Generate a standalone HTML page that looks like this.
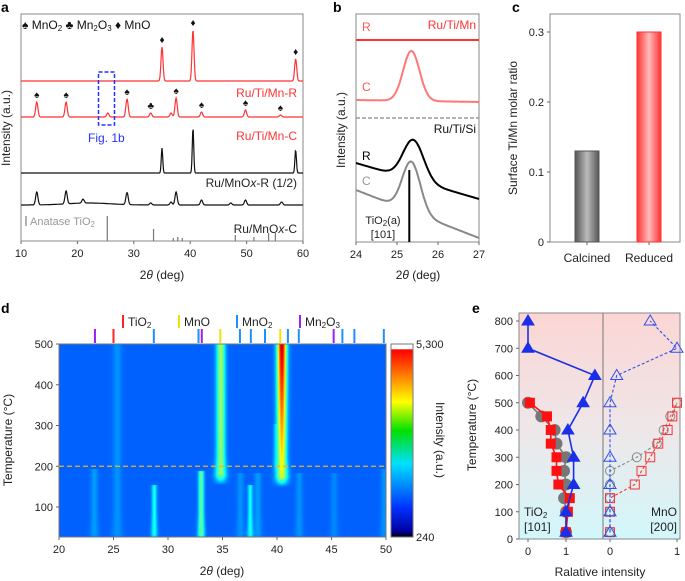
<!DOCTYPE html>
<html><head><meta charset="utf-8">
<style>
body{margin:0;background:#fff;}
#wrap{position:relative;width:685px;height:581px;overflow:hidden;font-family:"Liberation Sans",sans-serif;}
svg{position:absolute;left:0;top:0;}
canvas{position:absolute;}
text{font-family:"Liberation Sans","DejaVu Sans",sans-serif;}
</style></head>
<body>
<div id="wrap">
<canvas id="heat" width="327" height="193" style="left:59px;top:344px"></canvas>
<svg id="s" width="685" height="581" xmlns="http://www.w3.org/2000/svg">
<defs>
<linearGradient id="gGray" x1="0" x2="1"><stop offset="0" stop-color="#555"/><stop offset="0.5" stop-color="#bbb"/><stop offset="1" stop-color="#555"/></linearGradient>
<linearGradient id="gRed" x1="0" x2="1"><stop offset="0" stop-color="#f33"/><stop offset="0.5" stop-color="#fbb"/><stop offset="1" stop-color="#f33"/></linearGradient>
<linearGradient id="gBg" x1="0" y1="0" x2="0" y2="1"><stop offset="0" stop-color="#fbd6d4"/><stop offset="0.5" stop-color="#efe6e8"/><stop offset="1" stop-color="#d2f7fb"/></linearGradient>
<linearGradient id="gJet" x1="0" y1="1" x2="0" y2="0"><stop offset="0" stop-color="#000"/><stop offset="0.03" stop-color="#0000a0"/><stop offset="0.15" stop-color="#0030ff"/><stop offset="0.38" stop-color="#00e0ff"/><stop offset="0.55" stop-color="#00e000"/><stop offset="0.7" stop-color="#ffff00"/><stop offset="0.85" stop-color="#ff7000"/><stop offset="0.97" stop-color="#ff0000"/><stop offset="0.975" stop-color="#fff"/><stop offset="1" stop-color="#fff"/></linearGradient>
</defs>
<g id="root"></g>
</svg>
</div>
<script>
// ---------- DATA ----------
const aTicks=[10,20,30,40,50,60];
const aMnR_peaks=[[35.0,34],[40.5,51],[58.7,22]];
const aMnC_peaks=[[12.8,15],[18.0,15],[25.4,4],[28.8,18],[33.0,4],[36.6,4],[37.5,19],[42.0,5],[49.8,7],[56.0,2]];
const aMnOxR_peaks=[[35.0,25],[40.5,45],[58.7,23]];
const aMnOxC_peaks=[[12.8,13],[18.0,13],[21,4],[28.8,12],[33,2],[36.6,3],[37.5,13],[42,5],[47.2,2],[49.8,5],[56.2,3]];
const anataseRefs=[[25.3,25],[33.5,12],[37.0,3],[37.8,4],[38.6,3],[48.0,6],[51.3,4],[53.9,8],[55.1,8]];
const bTicks=[24,25,26,27];
const bC_peak=[25.35,50];
const bSiR_peak=[25.4,40];
const bSiC_peak=[25.35,50];
const cCats=["Calcined","Reduced"];
const cVals=[0.13,0.30];
const cTicks=[0,0.1,0.2,0.3];
const dXTicks=[20,25,30,35,40,45,50];
const dYTicks=[100,200,300,400,500];
// peaks: pos, tStart, tEnd, ampLow, ampHigh, width
const dPeaks=[[34.8,170,500,0.3,0.32,0.28],[40.4,165,500,0.36,0.72,0.3],[33.0,25,185,0.26,0.26,0.18],[28.7,25,150,0.18,0.18,0.16],[37.5,25,150,0.18,0.18,0.15],
 [23.2,25,190,0.06,0.06,0.22],[25.3,25,500,0.05,0.05,0.28],[36.6,25,180,0.05,0.05,0.22],[38.2,25,180,0.06,0.06,0.22],[42.0,25,180,0.05,0.05,0.22],[45.2,25,180,0.04,0.04,0.22],[49.8,25,190,0.05,0.05,0.22],[39.8,200,300,0.06,0.06,0.12]];
const refMn2O3=[23.3,33.1,45.2], refTiO2=[25.0], refMnO=[34.8,40.3], refMnO2=[28.7,32.8,36.6,37.6,38.9,41.0,42.0,46.0,47.1,49.8];
const eYTicks=[0,100,200,300,400,500,600,700,800];
const eTiBlueT=[25,100,200,300,400,500,600,700,800], eTiBlue=[1.0,1.0,1.2,1.2,1.05,1.45,1.76,0,0];
const eTiRedT=[25,100,150,200,250,300,350,400,450,500], eTiRed=[1.0,1.05,1.1,0.8,0.75,0.75,0.6,0.6,0.5,0.05];
const eTiGrayT=[25,100,150,200,250,300,350,400,450,500], eTiGray=[1.0,1.0,0.95,1.0,0.95,1.0,0.75,0.7,0.35,0.0];
const eMnBlueT=[25,100,200,300,400,500,600,700,800], eMnBlue=[0,0,0,0,0,0,0.1,1.0,0.6];
const eMnRedT=[25,100,150,200,250,300,350,400,450,500], eMnRed=[0,0,0,0.37,0.47,0.6,0.72,0.86,0.93,1.0];
const eMnGrayT=[25,100,150,200,250,300,350,400,450,500], eMnGray=[0,0,0,0,0,0.4,0.7,0.8,0.9,1.0];

// ---------- helpers ----------
const NS="http://www.w3.org/2000/svg";
const root=document.getElementById('root');
function el(tag,attrs,parent){const e=document.createElementNS(NS,tag);for(const k in attrs)e.setAttribute(k,attrs[k]);(parent||root).appendChild(e);return e;}
function txt(x,y,s,attrs){const t=el('text',Object.assign({x:x,y:y,'font-size':11,fill:'#222'},attrs||{}));t.innerHTML=s;return t;}
function gsum(x,peaks,w){let s=0;for(const p of peaks)s+=p[1]*Math.exp(-Math.pow(x-p[0],2)/(2*w*w));return s;}

// ---------- panel a ----------
const xA=d=>21+(d-10)*282/50;
let t=txt(1,12,'a',{'font-weight':'bold','font-size':14,fill:'#000'});

let r=el('rect',{x:21,y:14,width:282,height:227,fill:'none',stroke:'#888','stroke-width':1});

aTicks.forEach(v=>{el('line',{x1:xA(v),x2:xA(v),y1:241,y2:244,stroke:'#666'});
 const l=txt(xA(v),257,v,{'text-anchor':'middle'});});
t=txt(162,279,'2<tspan font-style="italic">θ</tspan> (deg)',{'text-anchor':'middle','font-size':12});

t=txt(10,128,'Intensity (a.u.)',{'text-anchor':'middle','font-size':12,transform:'rotate(-90 10 128)'});

function traceA(peaks,base,w,color,name,slope){
 let d='';for(let i=0;i<=560;i++){const x=10+i*50/560;const y=base-(slope?slope(x):0)-gsum(x,peaks,w);d+=(i?'L':'M')+xA(x).toFixed(1)+','+y.toFixed(1);}
 const p=el('path',{d:d,fill:'none',stroke:color,'stroke-width':1.2});
 }
traceA(aMnR_peaks,81,0.18,'#f33','trace-ru-ti-mn-r');
traceA(aMnC_peaks,117,0.2,'#f33','trace-ru-ti-mn-c');
traceA(aMnOxR_peaks,173,0.13,'#111','trace-ru-mnox-r');
traceA(aMnOxC_peaks,205,0.2,'#111','trace-ru-mnox-c',x=>2*Math.exp(-Math.pow(x-22,2)/30));
anataseRefs.forEach(p=>{const l=el('line',{x1:xA(p[0]),x2:xA(p[0]),y1:241-p[1],y2:241,stroke:'#777','stroke-width':1.2});
 });
[['Ru/Ti/Mn-R',297,97,'#f33'],['Ru/Ti/Mn-C',297,140,'#f33'],['Ru/MnO<tspan font-style="italic">x</tspan>-R (1/2)',297,187,'#222'],['Ru/MnO<tspan font-style="italic">x</tspan>-C',297,233,'#222']].forEach(s=>{
 const l=txt(s[1],s[2],s[0],{'text-anchor':'end','font-size':12,fill:s[3]});});
el('line',{x1:26,x2:26,y1:216,y2:226,stroke:'#999','stroke-width':1.5});
t=txt(30,225,'Anatase TiO<tspan font-size="8" dy="2">2</tspan>',{'font-size':11,fill:'#999'});
r=el('rect',{x:98.5,y:72,width:16,height:53,fill:'none',stroke:'#2233ff','stroke-width':1.5,'stroke-dasharray':'4,2'});

t=txt(88,142,'Fig. 1b',{'font-size':12,fill:'#2233ff'});
t=txt(22,29,'♠ MnO<tspan font-size="8" dy="2">2</tspan><tspan dy="-2">  ♣ Mn</tspan><tspan font-size="8" dy="2">2</tspan><tspan dy="-2">O</tspan><tspan font-size="8" dy="2">3</tspan><tspan dy="-2">  ♦ MnO</tspan>',{'font-size':12,fill:'#111'});

aMnR_peaks.forEach(p=>{const y=81-gsum(p[0],aMnR_peaks,0.18)-4;
 const m=txt(xA(p[0]),y,'♦',{'text-anchor':'middle','font-size':10,fill:'#111'});});
aMnC_peaks.forEach((p,i)=>{if([2,5].includes(i))return;const sym=(p[0]===33.0)?'♣':'♠';const y=117-gsum(p[0],aMnC_peaks,0.2)-4;
 const m=txt(xA(p[0]),y,sym,{'text-anchor':'middle','font-size':10,fill:'#111'});});

// ---------- panel b ----------
const xB=d=>356+(d-24)*123/3;
t=txt(333,12,'b',{'font-weight':'bold','font-size':14,fill:'#000'});
r=el('rect',{x:356,y:14,width:123,height:228,fill:'none',stroke:'#888'});
bTicks.forEach(v=>{el('line',{x1:xB(v),x2:xB(v),y1:242,y2:245,stroke:'#666'});const l=txt(xB(v),258,v,{'text-anchor':'middle'});});
t=txt(418,279,'2<tspan font-style="italic">θ</tspan> (deg)',{'text-anchor':'middle','font-size':12});
t=txt(345,130,'Intensity (a.u.)',{'text-anchor':'middle','font-size':12,transform:'rotate(-90 345 130)'});
function traceB(peak,y0,y1,w,color,name){let d='';for(let i=0;i<=120;i++){const x=24+i*3/120;const y=y0+(y1-y0)*(x-24)/3-peak[1]*Math.exp(-Math.pow(x-peak[0],2)/(2*w*w));d+=(i?'L':'M')+xB(x).toFixed(1)+','+y.toFixed(1);}
 const p=el('path',{d:d,fill:'none',stroke:color,'stroke-width':2});}
traceB([25,0],40,40,0.2,'#f33','b-trace-mn-r');
traceB(bC_peak,100,102,0.2,'#f77','b-trace-mn-c');
traceB(bSiR_peak,163,199,0.25,'#000','b-trace-si-r');
traceB(bSiC_peak,190,238,0.22,'#888','b-trace-si-c');
el('line',{x1:356,x2:479,y1:118,y2:118,stroke:'#888','stroke-dasharray':'4,2','stroke-width':1.2});
el('line',{x1:xB(25.3),x2:xB(25.3),y1:170,y2:242,stroke:'#000','stroke-width':2});
[['R',362,31,'#f55'],['C',362,91,'#f55'],['R',362,160,'#000'],['C',362,185,'#999']].forEach(s=>{const l=txt(s[1],s[2],s[0],{'font-size':12,fill:s[3]});});
t=txt(476,29,'Ru/Ti/Mn',{'text-anchor':'end','font-size':12,fill:'#f33'});
t=txt(476,133,'Ru/Ti/Si',{'text-anchor':'end','font-size':12,fill:'#111'});
t=txt(383,224,'TiO<tspan font-size="8" dy="2">2</tspan><tspan dy="-2">(a)</tspan>',{'text-anchor':'middle','font-size':11});
t=txt(383,238,'[101]',{'text-anchor':'middle','font-size':11});

// ---------- panel c ----------
const yC=v=>242-v*700;
t=txt(512,12,'c',{'font-weight':'bold','font-size':14,fill:'#000'});
r=el('rect',{x:550,y:14,width:130,height:228,fill:'none',stroke:'#888'});
cTicks.forEach(v=>{el('line',{x1:547,x2:550,y1:yC(v),y2:yC(v),stroke:'#666'});const l=txt(544,yC(v)+4,v,{'text-anchor':'end'});});
t=txt(517,128,'Surface Ti/Mn molar ratio',{'text-anchor':'middle','font-size':12,transform:'rotate(-90 517 128)'});
const cX=[587,649],cFill=['url(#gGray)','url(#gRed)'],cStroke=['#555','#f33'];
cVals.forEach((v,i)=>{const b=el('rect',{x:cX[i]-12,y:yC(v),width:24,height:v*700,fill:cFill[i],stroke:cStroke[i]});
 
 el('line',{x1:cX[i],x2:cX[i],y1:242,y2:245,stroke:'#666'});
 const l=txt(cX[i],262,cCats[i],{'text-anchor':'middle','font-size':12});});

// ---------- panel d ----------
const xD=d=>59+(d-20)*327/30, yD=T=>344+(500-T)*0.4075;
t=txt(1,313,'d',{'font-weight':'bold','font-size':14,fill:'#000'});
(function(){const c=document.getElementById('heat').getContext('2d');const img=c.createImageData(327,193);
 function jet(v){v=Math.max(0,Math.min(1,v));const f=a=>Math.max(0,Math.min(1,1.5-Math.abs(4*v-a)));return [f(3),f(2),f(1)];}
 for(let j=0;j<193;j++){const T=500-j/0.4075;for(let i=0;i<327;i++){const x=20+i*30/327;let s=0.22;
  for(const p of dPeaks){if(T<p[1]-15||T>p[2]+5)continue;let fade=1;if(T<p[1]+10)fade=Math.max(0,(T-p[1]+15)/25);
   const amp=p[3]+(p[4]-p[3])*Math.max(0,(T-p[1]))/(p[2]-p[1]+1);const w=p[5]*(1+0.3*Math.max(0,1-(T-p[1])/60));
   s+=amp*fade*Math.exp(-Math.pow(x-p[0],2)/(2*w*w));}
  const col=jet(s);const k=(j*327+i)*4;img.data[k]=col[0]*255;img.data[k+1]=col[1]*255;img.data[k+2]=col[2]*255;img.data[k+3]=255;}}
 c.putImageData(img,0,0);})();
r=el('rect',{x:59,y:344,width:327,height:193,fill:'none',stroke:'#777'});
el('line',{x1:59,x2:386,y1:yD(200),y2:yD(200),stroke:'#f5b020','stroke-width':1.3,'stroke-dasharray':'5,3'});
dXTicks.forEach(v=>{el('line',{x1:xD(v),x2:xD(v),y1:537,y2:540,stroke:'#666'});const l=txt(xD(v),553,v,{'text-anchor':'middle'});});
dYTicks.forEach(v=>{el('line',{x1:56,x2:59,y1:yD(v),y2:yD(v),stroke:'#666'});const l=txt(53,yD(v)+4,v,{'text-anchor':'end'});});
t=txt(222,575,'2<tspan font-style="italic">θ</tspan> (deg)',{'text-anchor':'middle','font-size':12});
t=txt(12,440,'Temperature (°C)',{'text-anchor':'middle','font-size':12,transform:'rotate(-90 12 440)'});
[[refMn2O3,'#a020f0'],[refTiO2,'#f22'],[refMnO,'#f5e000'],[refMnO2,'#1e8fff']].forEach(g=>g[0].forEach(v=>{const l=el('line',{x1:xD(v),x2:xD(v),y1:329,y2:343,stroke:g[1],'stroke-width':2});}));
[[123,'#f22','TiO<tspan font-size="8" dy="2">2</tspan>'],[179,'#f5e000','MnO'],[237,'#1e8fff','MnO<tspan font-size="8" dy="2">2</tspan>'],[300,'#a020f0','Mn<tspan font-size="8" dy="2">2</tspan><tspan dy="-2">O</tspan><tspan font-size="8" dy="2">3</tspan>']].forEach(g=>{
 el('line',{x1:g[0],x2:g[0],y1:315,y2:328,stroke:g[1],'stroke-width':2});const l=txt(g[0]+5,326,g[2],{'font-size':12});});
r=el('rect',{x:391,y:344,width:22,height:193,fill:'url(#gJet)',stroke:'#777'});
t=txt(416,348,'5,300',{'font-size':11});
t=txt(416,541,'240',{'font-size':11});
t=txt(436,440,'Intensity (a.u.)',{'text-anchor':'middle','font-size':12,transform:'rotate(90 436 440)'});

// ---------- panel e ----------
const yE=T=>539-T*0.2725, xEL=v=>528+v*38, xER=v=>610+v*67;
t=txt(472,313,'e',{'font-weight':'bold','font-size':14,fill:'#000'});
el('rect',{x:519,y:313,width:161,height:226,fill:'url(#gBg)'});
r=el('rect',{x:519,y:313,width:161,height:226,fill:'none',stroke:'#888'});
el('line',{x1:603,x2:603,y1:313,y2:539,stroke:'#777'});
eYTicks.forEach(v=>{el('line',{x1:516,x2:519,y1:yE(v),y2:yE(v),stroke:'#666'});const l=txt(513,yE(v)+4,v,{'text-anchor':'end'});});
[[xEL(0),'0'],[xEL(1),'1'],[xER(0),'0'],[xER(1),'1']].forEach(s=>{el('line',{x1:s[0],x2:s[0],y1:539,y2:542,stroke:'#666'});const l=txt(s[0],555,s[1],{'text-anchor':'middle'});});
t=txt(600,576,'Ralative intensity',{'text-anchor':'middle','font-size':12});
t=txt(476,425,'Temperature (°C)',{'text-anchor':'middle','font-size':12,transform:'rotate(-90 476 425)'});
function seriesE(Ts,vals,xf,color,shape,filled,dashed,name){
 let d='';Ts.forEach((T,i)=>{d+=(i?'L':'M')+xf(vals[i]).toFixed(1)+','+yE(T).toFixed(1);});
 const p=el('path',{d:d,fill:'none',stroke:color,'stroke-width':filled?1.6:1.1,'stroke-dasharray':dashed?'3,2':'none'});
 Ts.forEach((T,i)=>{const x=xf(vals[i]),y=yE(T);let m;const f=filled?color:'none';
  if(shape==='tri')m=el('polygon',{points:`${x},${y-6} ${x-6},${y+4} ${x+6},${y+4}`,fill:f,stroke:color});
  else if(shape==='sq')m=el('rect',{x:x-4.5,y:y-4.5,width:9,height:9,fill:f,stroke:color});
  else m=el('circle',{cx:x,cy:y,r:filled?5.5:4.5,fill:f,stroke:color});
  });}
seriesE(eTiGrayT,eTiGray,xEL,'#777','circ',true,false,'ti-gray');
seriesE(eTiRedT,eTiRed,xEL,'#f11','sq',true,false,'ti-red');
seriesE(eTiBlueT,eTiBlue,xEL,'#1a30e8','tri',true,false,'ti-blue');
seriesE(eMnGrayT,eMnGray,xER,'#888','circ',false,true,'mn-gray');
seriesE(eMnRedT,eMnRed,xER,'#f33','sq',false,true,'mn-red');
seriesE(eMnBlueT,eMnBlue,xER,'#3050ee','tri',false,true,'mn-blue');
t=txt(524,516,'TiO<tspan font-size="8" dy="2">2</tspan>',{'font-size':12});
t=txt(524,531,'[101]',{'font-size':12});
t=txt(677,516,'MnO',{'text-anchor':'end','font-size':12});
t=txt(677,531,'[200]',{'text-anchor':'end','font-size':12});
</script>
</body></html>
